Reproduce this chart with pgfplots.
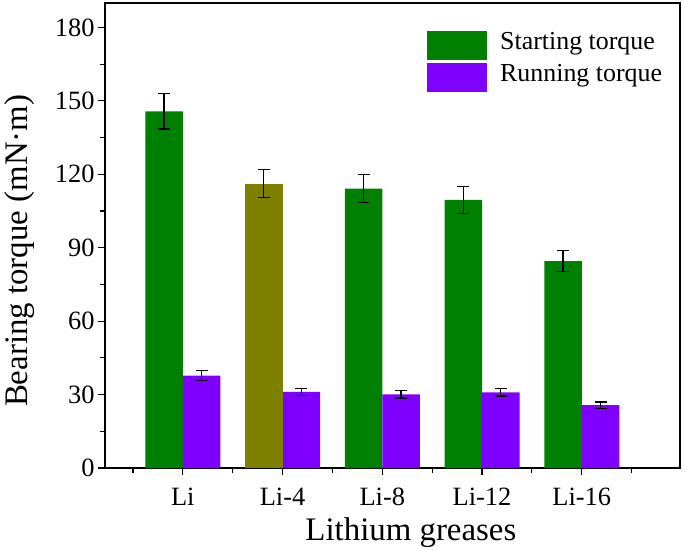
\documentclass[border=0pt]{standalone}
\usepackage{fontspec}
\setmainfont{Liberation Serif}
\usepackage{pgfplots}
\pgfplotsset{compat=1.18}

\definecolor{startgreen}{RGB}{0,128,0}
\definecolor{runpurple}{RGB}{128,0,255}
\definecolor{oliveb}{RGB}{128,128,0}

\begin{document}
\begin{tikzpicture}
\path[use as bounding box] (-105bp,-83bp) rectangle (580bp,468bp);
\begin{axis}[
    scale only axis,
    width=575bp, height=465bp,
    xmin=0.22, xmax=5.985,
    ymin=0, ymax=190,
    axis line style={line width=1.2bp},
    every tick/.style={black, line width=1.2bp},
    tick align=outside,
    major tick length=7bp,
    minor tick length=4.5bp,
    xtick={1,2,3,4,5},
    xticklabels={Li, Li-4, Li-8, Li-12, Li-16},
    minor xtick={0.5,1.5,2.5,3.5,4.5,5.5},
    ytick={0,30,60,90,120,150,180},
    minor ytick={15,45,75,105,135,165},
    xtick pos=bottom, ytick pos=left,
    /pgf/number format/assume math mode=true,
    ticklabel style={font=\fontsize{26.5}{30}\selectfont},
    xticklabel style={yshift=-9bp},
    xlabel={Lithium greases},
    ylabel={Bearing torque (mN·m)},
    label style={font=\fontsize{33}{38}\selectfont},
    xlabel style={at={(axis description cs:0.532,-0.155)}, anchor=base},
    ylabel style={at={(axis description cs:-0.148,0.467)}, anchor=center},
    legend style={draw=none, fill=none, at={(axis description cs:0.56,0.944)}, anchor=north west,
        font=\fontsize{26}{30}\selectfont, inner sep=0pt, row sep=0pt, column sep=13bp,
        nodes={inner sep=0pt, text height=20bp, text depth=12.5bp}},
    legend cell align=left,
    legend image code/.code={\fill[#1] (0bp,-14.5bp) rectangle (60bp,14.5bp);},
    error bars/y dir=both, error bars/y explicit,
    error bars/error bar style={black, line width=1.2bp},
    error bars/error mark options={black, rotate=90, mark size=6bp, line width=1.2bp},
]
% starting torque (bars placed left of each category)
\addplot[ybar, bar width=37.5bp, bar shift=0pt, fill=startgreen, draw=none]
    coordinates {(0.812,145.7) +- (0,7.2) (2.812,114.2) +- (0,5.7) (3.812,109.6) +- (0,5.5) (4.812,84.5) +- (0,4.3)};
\addlegendentry{Starting torque}
% running torque (bars placed right of each category)
\addplot[ybar, bar width=37.5bp, bar shift=0pt, fill=runpurple, draw=none]
    coordinates {(1.188,37.7) +- (0,2.0) (2.188,31.1) +- (0,1.5) (3.188,30.1) +- (0,1.5) (4.188,30.9) +- (0,1.5) (5.188,25.7) +- (0,1.3)};
\addlegendentry{Running torque}
% Li-4 starting torque, olive
\addplot[ybar, bar width=37.5bp, bar shift=0pt, fill=oliveb, draw=none, forget plot]
    coordinates {(1.812,116.2) +- (0,5.7)};
\end{axis}
\end{tikzpicture}
\end{document}
